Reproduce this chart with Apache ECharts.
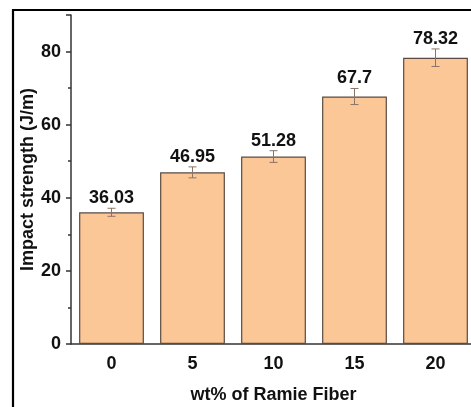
<!DOCTYPE html>
<html>
<head>
<meta charset="utf-8">
<script src="https://cdn.jsdelivr.net/npm/echarts@6/dist/echarts.min.js"></script>
<style>
html,body{margin:0;padding:0;background:#fff;}
#main{width:471px;height:407px;}
</style>
</head>
<body>
<div id="main"></div>
<script>
const categories = ['0', '5', '10', '15', '20'];
const values = [36.03, 46.95, 51.28, 67.7, 78.32];
const errors = [1.1, 1.5, 1.6, 2.2, 2.4];
const labels = ['36.03', '46.95', '51.28', '67.7', '78.32'];
const yTicks = [0, 20, 40, 60, 80];

const FONT = 'Liberation Sans, Arial, sans-serif';
const chart = echarts.init(document.getElementById('main'), null, {renderer: 'canvas'});

const errData = values.map((v, i) => [i, v, errors[i], labels[i]]);

const option = {
  animation: false,
  backgroundColor: '#fff',
  graphic: [{
    type: 'rect',
    shape: {x: 13, y: 10, width: 600, height: 600},
    style: {fill: 'none', stroke: '#000', lineWidth: 2.2},
    z: 100
  }],
  grid: [
    {left: 71, right: -5, top: 15, bottom: 63, containLabel: false, outerBoundsMode: 'none'},
    {left: 71, right: -5, top: 15, bottom: 63, containLabel: false, outerBoundsMode: 'none'}
  ],
  xAxis: [{
    type: 'category',
    data: categories,
    gridIndex: 0,
    name: 'wt% of Ramie Fiber',
    nameLocation: 'middle',
    nameGap: 42,
    nameMoveOverlap: false,
    nameTextStyle: {fontFamily: FONT, fontWeight: 'bold', fontSize: 18, color: '#111'},
    axisLine: {lineStyle: {color: '#333', width: 1.5}},
    axisTick: {alignWithLabel: true, length: 5, lineStyle: {color: '#333', width: 1.5}},
    axisLabel: {fontFamily: FONT, fontWeight: 'bold', fontSize: 18, color: '#111', margin: 11}
  }, {
    type: 'category',
    data: categories,
    gridIndex: 1,
    axisLine: {show: false},
    axisTick: {alignWithLabel: false, length: 3, lineStyle: {color: '#333', width: 1.5}},
    axisLabel: {show: false}
  }],
  yAxis: [{
    type: 'value',
    gridIndex: 0,
    min: 0,
    max: 90,
    interval: 20,
    name: 'Impact strength (J/m)',
    nameLocation: 'middle',
    nameGap: 34,
    nameMoveOverlap: false,
    nameTextStyle: {fontFamily: FONT, fontWeight: 'bold', fontSize: 18, color: '#111'},
    axisLine: {show: true, lineStyle: {color: '#333', width: 1.5}},
    axisTick: {show: true, length: 5, lineStyle: {color: '#333', width: 1.5}},
    minorTick: {show: true, splitNumber: 2, length: 3, lineStyle: {color: '#333', width: 1.5}},
    splitLine: {show: false},
    axisLabel: {
      fontFamily: FONT, fontWeight: 'bold', fontSize: 18, color: '#111', margin: 10,
      showMaxLabel: false,
      formatter: v => (yTicks.indexOf(v) >= 0 ? String(v) : '')
    }
  }, {
    type: 'value',
    gridIndex: 1,
    min: 0,
    max: 90,
    show: false
  }],
  series: [{
    type: 'bar',
    xAxisIndex: 0,
    yAxisIndex: 0,
    data: values,
    barCategoryGap: '20%',
    itemStyle: {color: '#FCC796', borderColor: '#5a4a42', borderWidth: 1.2},
    z: 2
  }, {
    type: 'custom',
    xAxisIndex: 0,
    yAxisIndex: 0,
    data: errData,
    z: 5,
    renderItem: function (params, api) {
      const i = api.value(0), v = api.value(1), e = api.value(2);
      const top = api.coord([i, v + e]);
      const bot = api.coord([i, v - e]);
      const x = top[0];
      const hw = 4;
      const st = {stroke: '#8a7468', lineWidth: 1};
      return {
        type: 'group',
        children: [
          {type: 'line', shape: {x1: x, y1: top[1], x2: x, y2: bot[1]}, style: st},
          {type: 'line', shape: {x1: x - hw, y1: top[1], x2: x + hw, y2: top[1]}, style: st},
          {type: 'line', shape: {x1: x - hw, y1: bot[1], x2: x + hw, y2: bot[1]}, style: st},
          {type: 'text', x: x, y: top[1] - 10,
           style: {text: labels[params.dataIndex], fontFamily: FONT, fontWeight: 'bold', fontSize: 18,
                   fill: '#111', align: 'center', verticalAlign: 'middle'}}
        ]
      };
    }
  }]
};
chart.setOption(option);
</script>
</body>
</html>
